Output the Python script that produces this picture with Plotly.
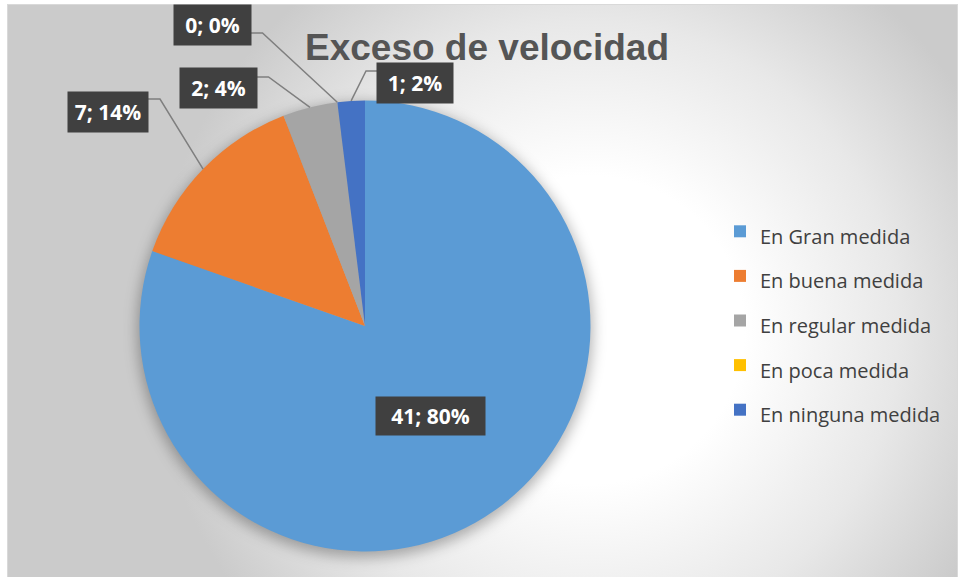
import base64
import math
import plotly.graph_objects as go

W, H = 960, 577

categories = ["En Gran medida", "En buena medida", "En regular medida", "En poca medida", "En ninguna medida"]
values = [41, 7, 2, 0, 1]
colors = ["#5B9BD5", "#ED7D31", "#A5A5A5", "#FFC000", "#4472C4"]

# label box placement (pixels): center x, center y, width, height, leader y
boxes = [
    (430, 416, 109, 38, None),
    (108, 112, 80, 40, 99),
    (218, 88, 77, 40, 77),
    (212, 25, 77, 40, 33),
    (415, 83, 76, 40, 71),
]

# pie geometry in pixels
cx, cy, r = 365, 326, 225.5


def px(x):
    return x / W


def py(y):
    return 1 - y / H


bg_svg = f"""<svg xmlns='http://www.w3.org/2000/svg' width='{W}' height='{H}'>
<defs>
<radialGradient id='g' gradientUnits='userSpaceOnUse' cx='590' cy='330' r='440'>
<stop offset='0' stop-color='#ffffff'/>
<stop offset='0.35' stop-color='#ffffff'/>
<stop offset='0.7' stop-color='#e8e8e8'/>
<stop offset='1' stop-color='#cbcbcb'/>
</radialGradient>
<filter id='b' x='-20%' y='-20%' width='140%' height='140%'><feGaussianBlur stdDeviation='7'/></filter>
</defs>
<rect x='0' y='0' width='{W}' height='{H}' fill='#ffffff'/>
<rect x='7.5' y='4.5' width='950' height='580' fill='url(#g)' stroke='#d9d9d9' stroke-width='1'/>
<circle cx='{cx}' cy='{cy + 4}' r='{r + 2}' fill='#000000' fill-opacity='0.3' filter='url(#b)'/>
</svg>"""
bg_uri = "data:image/svg+xml;base64," + base64.b64encode(bg_svg.encode()).decode()

total = sum(values)
legend_labels = [f"<span style='font-size:20px'>{c}</span>" for c in categories]

fig = go.Figure(go.Pie(
    labels=legend_labels,
    values=values,
    sort=False,
    direction="clockwise",
    rotation=0,
    marker=dict(colors=colors, line=dict(width=0)),
    textinfo="none",
    hovertemplate="%{label}: %{value} (%{percent})<extra></extra>",
    domain=dict(x=[px(cx - r), px(cx + r)], y=[py(cy + r), py(cy - r)]),
))

annotations = []
shapes = []
cum = 0
for v, box in zip(values, boxes):
    pct = round(100 * v / total)
    theta = 2 * math.pi * (cum + v / 2) / total
    cum += v
    bx, by, bw, bh, ly = box
    pad = 4
    annotations.append(dict(
        x=px(bx), y=py(by), xref="paper", yref="paper",
        text=f"<b>{v}; {pct}%</b>", showarrow=False,
        font=dict(family="Open Sans", size=21, color="#ffffff"),
        bgcolor="#404040", borderpad=pad,
        width=bw - 2 * pad, height=bh - 2 * pad,
        xanchor="center", yanchor="middle",
    ))
    if ly is None:
        continue
    ex = cx + r * math.sin(theta)
    ey = cy - r * math.cos(theta)
    if bx < ex:
        sx = bx + bw / 2
        kx = sx + 12
    else:
        sx = bx - bw / 2
        kx = sx - 11
    shapes.append(dict(
        type="path", xref="paper", yref="paper",
        path=f"M {px(sx)},{py(ly)} L {px(kx)},{py(ly)} L {px(ex)},{py(ey)}",
        line=dict(color="#7f7f7f", width=1.5),
    ))

fig.update_layout(
    width=W, height=H,
    margin=dict(l=0, r=0, t=0, b=0),
    paper_bgcolor="#ffffff",
    title=dict(
        text="<b>Exceso de velocidad</b>",
        x=px(487), y=py(47), xanchor="center", yanchor="middle",
        font=dict(family="Liberation Sans", size=37, color="#555555"),
    ),
    legend=dict(
        x=px(720), y=py(204), xanchor="left", yanchor="top",
        font=dict(family="Open Sans", size=32, color="#404040"),
        bgcolor="rgba(0,0,0,0)",
    ),
    images=[dict(
        source=bg_uri, xref="paper", yref="paper", x=0, y=1,
        sizex=1, sizey=1, sizing="stretch", layer="below",
        xanchor="left", yanchor="top",
    )],
    annotations=annotations,
    shapes=shapes,
)

fig.write_html("out.html", config={"displayModeBar": False},
               post_script="document.body.style.margin='0';")
